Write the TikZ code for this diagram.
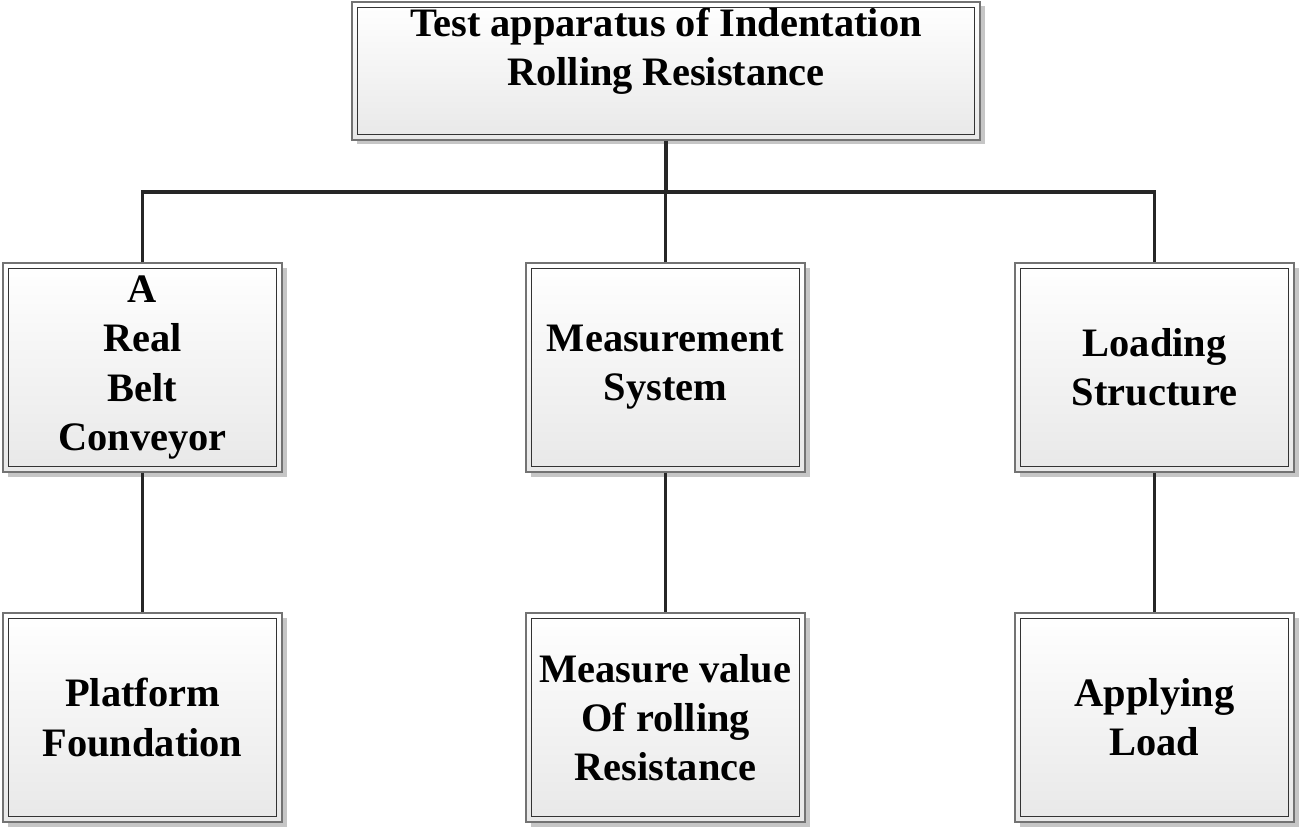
\documentclass[tikz,border=0pt]{standalone}
\usepackage{fontspec}
\setmainfont{Liberation Serif}
\usetikzlibrary{shadows}
\tikzset{
  blk/.style={draw=black!55, line width=0.6pt, top color=white, bottom color=black!9,
    drop shadow={opacity=0.45, shadow xshift=0.09cm, shadow yshift=-0.09cm},
    align=center, inner sep=0pt,
    font=\fontsize{23}{28}\selectfont\bfseries},
  conn/.style={line width=2.2pt, black!85}
}
\begin{document}
\begin{tikzpicture}
\useasboundingbox (0,0) rectangle (26.04,-16.6);
% boxes
\node[blk, minimum width=12.56cm, minimum height=2.76cm] (top) at (13.32,-1.42)
  {Test apparatus of Indentation\\Rolling Resistance\\ \mbox{}};
\node[blk, minimum width=5.58cm, minimum height=4.18cm] (belt) at (2.85,-7.35) {A\\Real\\Belt\\Conveyor};
\node[blk, minimum width=5.58cm, minimum height=4.18cm] (meas) at (13.31,-7.35) {Measurement\\System};
\node[blk, minimum width=5.58cm, minimum height=4.18cm] (load) at (23.09,-7.35) {Loading\\Structure};
\node[blk, minimum width=5.58cm, minimum height=4.18cm] (plat) at (2.85,-14.35) {Platform\\Foundation};
\node[blk, minimum width=5.58cm, minimum height=4.18cm] (value) at (13.31,-14.35) {Measure value\\Of rolling\\Resistance};
\node[blk, minimum width=5.58cm, minimum height=4.18cm] (apply) at (23.09,-14.35) {Applying\\Load};
% inner frames
\foreach \n in {top,belt,meas,load,plat,value,apply}
  \draw[black!80, line width=0.8pt] ([shift={(0.12,-0.12)}]\n.north west) rectangle ([shift={(-0.12,0.12)}]\n.south east);
% connectors
\coordinate (busL) at (2.85,-3.84);
\coordinate (busR) at (23.09,-3.84);
\draw[conn] (top.south) -- (top.south |- busL);
\draw[conn] (belt.north) -- (busL) -- (busR) -- (load.north);
\draw[conn] (meas.north) -- (meas.north |- busL);
\draw[conn] (belt.south) -- (plat.north);
\draw[conn] (meas.south) -- (value.north);
\draw[conn] (load.south) -- (apply.north);
\end{tikzpicture}
\end{document}
